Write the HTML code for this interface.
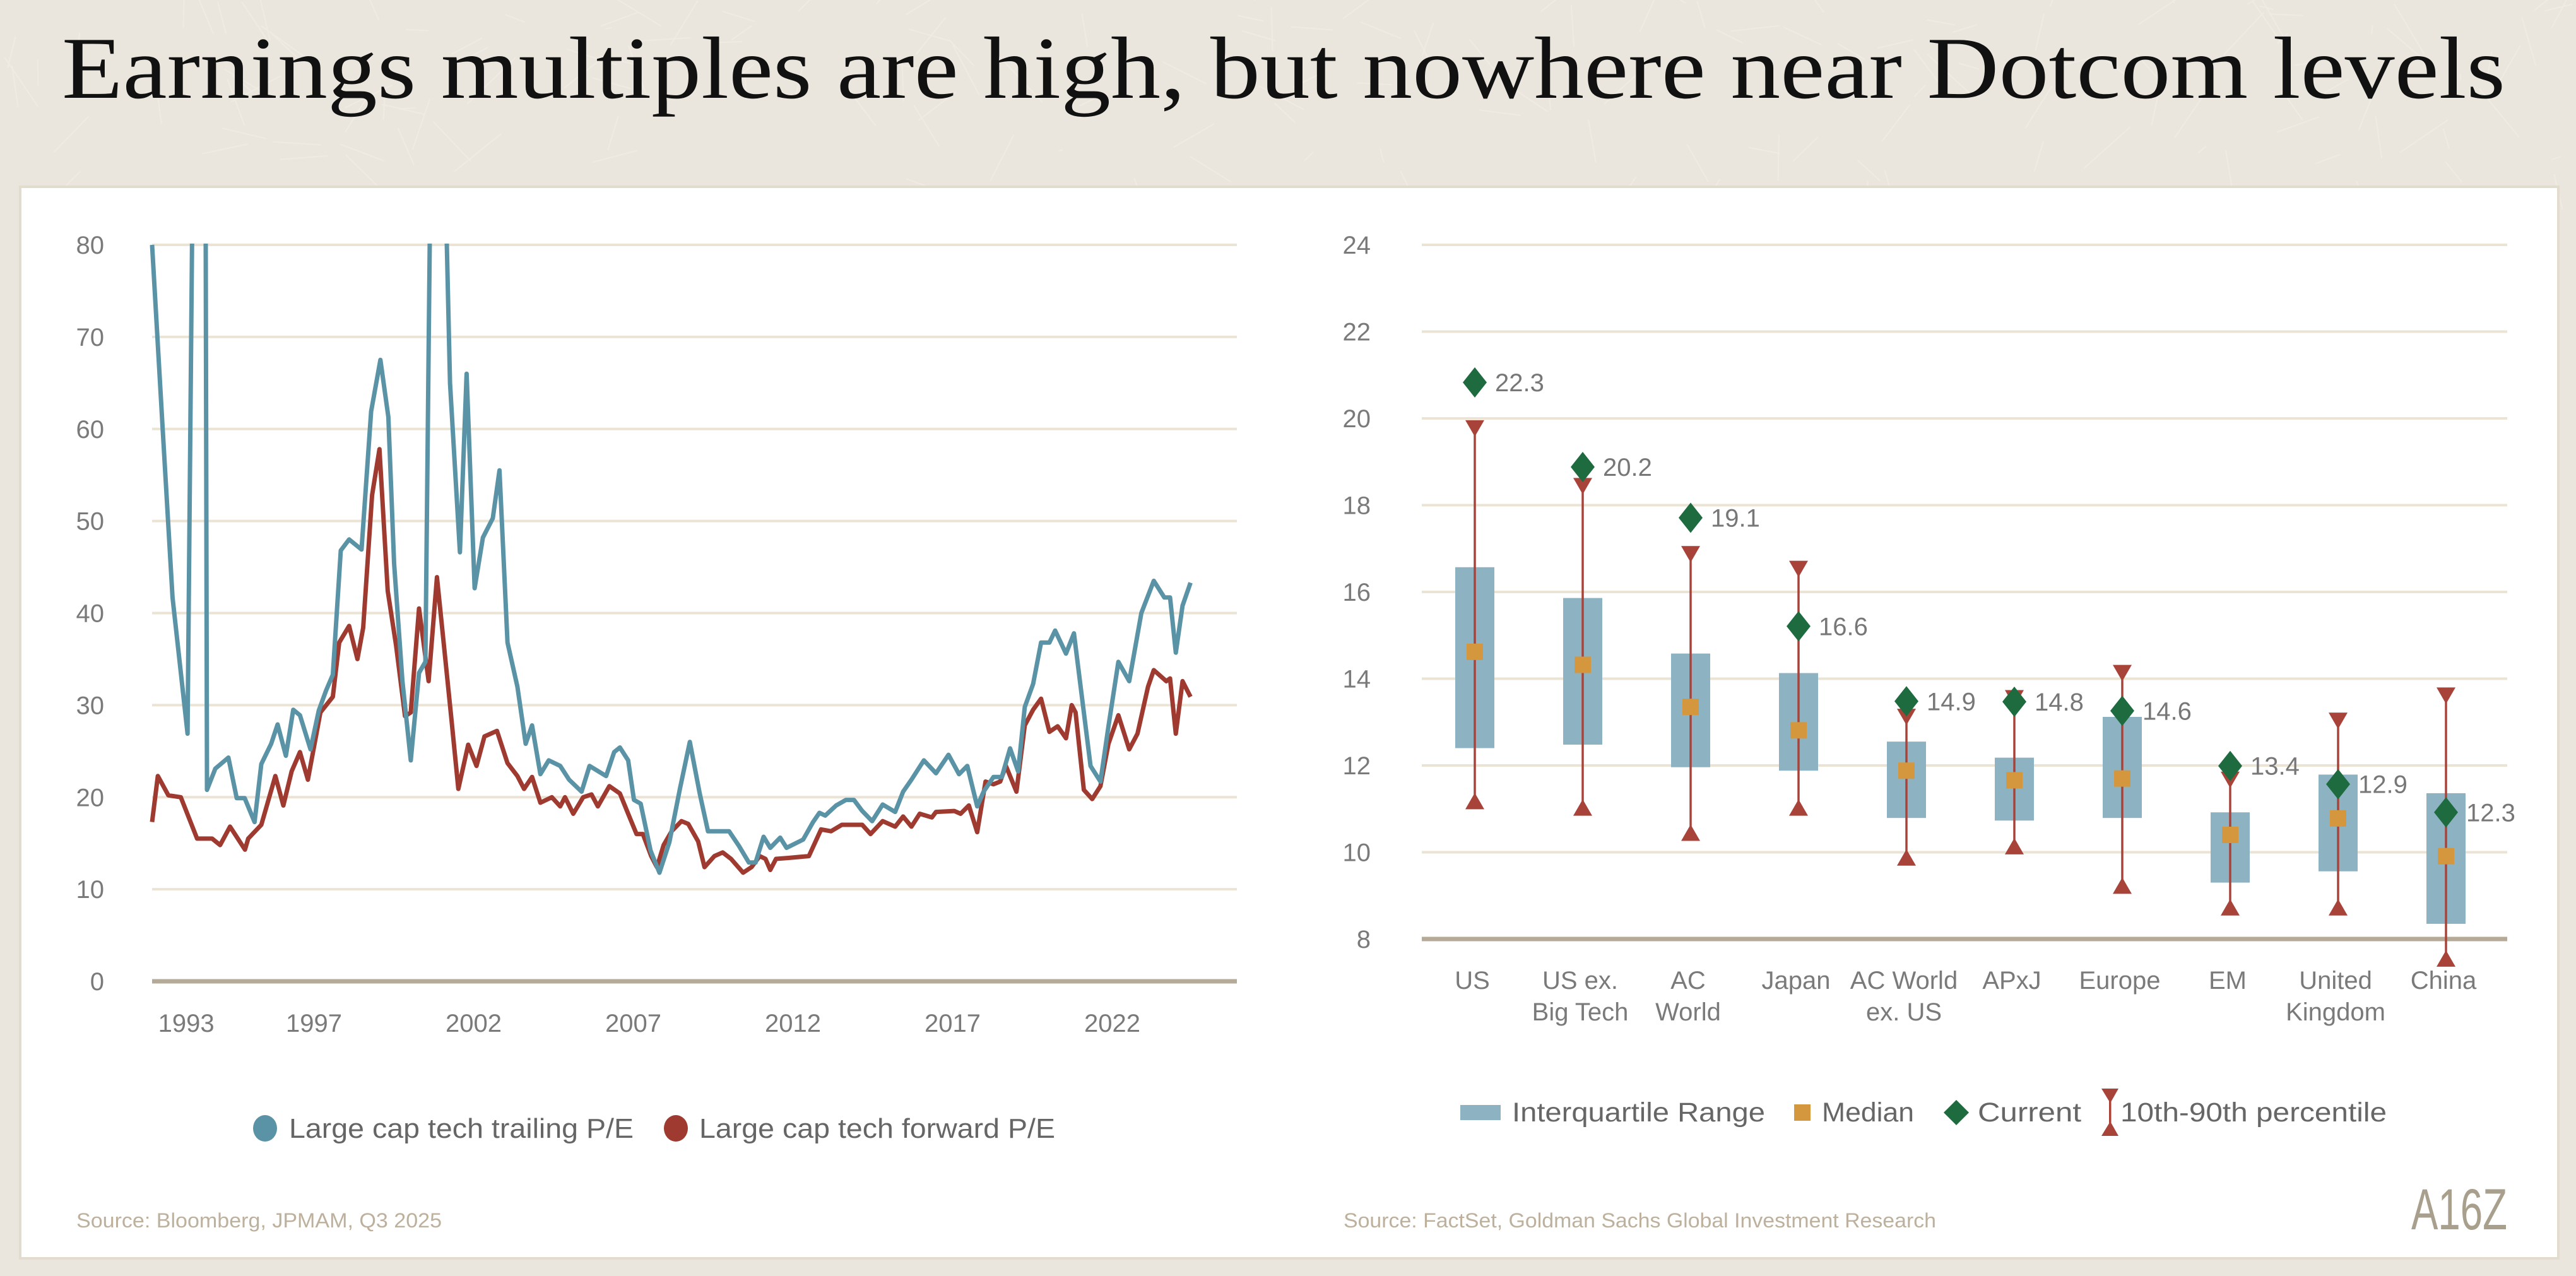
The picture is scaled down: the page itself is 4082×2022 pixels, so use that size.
<!DOCTYPE html>
<html><head><meta charset="utf-8"><style>
html,body{margin:0;padding:0;background:#ebe6dd;}
svg{display:block;}
text{font-family:"Liberation Sans Narrow","Liberation Sans",sans-serif;}
</style></head><body>
<svg id="root" width="4082" height="2022" viewBox="0 0 4082 2022" xmlns="http://www.w3.org/2000/svg">
<rect x="0" y="0" width="4082" height="2022" fill="#ebe6dd"/>
<g id="texture" stroke="#f2eee7" stroke-width="2" fill="none" opacity="0.6"></g>
<text x="98" y="155" font-size="140" textLength="3872" lengthAdjust="spacingAndGlyphs" fill="#111" style="font-family:'Liberation Serif',serif">Earnings multiples are high, but nowhere near Dotcom levels</text>
<rect x="32" y="296" width="4022" height="1698" fill="#fff" stroke="#e2dccf" stroke-width="4"/>
<g id="left"></g>
<g id="right"></g>
<g>
<ellipse cx="420" cy="1788" rx="19" ry="21" fill="#5a93a6"/>
<text x="458" y="1803" font-size="44" fill="#666" textLength="546" lengthAdjust="spacingAndGlyphs">Large cap tech trailing P/E</text>
<ellipse cx="1071" cy="1788" rx="19" ry="21" fill="#9e3a2f"/>
<text x="1108" y="1803" font-size="44" fill="#666" textLength="564" lengthAdjust="spacingAndGlyphs">Large cap tech forward P/E</text>
</g>
<text x="121" y="1945" font-size="32" fill="#bdb09c" textLength="579" lengthAdjust="spacingAndGlyphs">Source: Bloomberg, JPMAM, Q3 2025</text>
<g>
<rect x="2314" y="1751" width="64" height="24" fill="#8db3c3"/>
<text x="2396" y="1777" font-size="43" fill="#666" textLength="401" lengthAdjust="spacingAndGlyphs">Interquartile Range</text>
<rect x="2843" y="1750" width="26" height="26" fill="#d4973e"/>
<text x="2887" y="1777" font-size="43" fill="#666" textLength="146" lengthAdjust="spacingAndGlyphs">Median</text>
<polygon points="3100,1743 3120,1763 3100,1783 3080,1763" fill="#1e6b3f"/>
<text x="3134" y="1777" font-size="43" fill="#666" textLength="164" lengthAdjust="spacingAndGlyphs">Current</text>
<g fill="#a8433a">
<rect x="3342" y="1728" width="3.5" height="72"/>
<polygon points="3330,1725 3357,1725 3344,1748"/>
<polygon points="3330,1800 3357,1800 3344,1777"/>
</g>
<text x="3360" y="1777" font-size="43" fill="#666" textLength="422" lengthAdjust="spacingAndGlyphs">10th-90th percentile</text>
</g>
<text x="2129" y="1945" font-size="32" fill="#bdb09c" textLength="939" lengthAdjust="spacingAndGlyphs">Source: FactSet, Goldman Sachs Global Investment Research</text>
<text x="3821" y="1948" font-size="92" fill="#a89f8c" textLength="152" lengthAdjust="spacingAndGlyphs">A16Z</text>
</svg>
<script>
const trailingDates = [1992.23,1992.56,1992.87,1993.34,1993.52,1993.90,1993.95,1994.21,1994.62,1994.88,1995.13,1995.44,1995.65,1995.96,1996.16,1996.42,1996.65,1996.86,1997.19,1997.45,1997.68,1997.89,1998.14,1998.40,1998.79,1999.09,1999.38,1999.63,1999.81,2000.07,2000.33,2000.59,2000.79,2000.97,2001.36,2001.56,2001.87,2002.08,2002.33,2002.59,2002.90,2003.11,2003.36,2003.67,2003.93,2004.13,2004.39,2004.65,2005.01,2005.29,2005.68,2005.93,2006.45,2006.70,2006.88,2007.14,2007.32,2007.53,2007.84,2008.12,2008.43,2008.76,2009.07,2009.38,2009.64,2010.30,2010.61,2010.92,2011.13,2011.38,2011.59,2011.90,2012.10,2012.62,2012.93,2013.13,2013.31,2013.65,2013.96,2014.21,2014.47,2014.78,2015.11,2015.50,2015.75,2016.01,2016.40,2016.78,2017.17,2017.50,2017.76,2018.07,2018.27,2018.58,2018.84,2019.10,2019.35,2019.56,2019.82,2020.07,2020.33,2020.51,2020.85,2021.10,2021.41,2021.62,2021.93,2022.18,2022.49,2022.83,2023.21,2023.60,2023.93,2024.11,2024.29,2024.50,2024.75];
const trailingValues = [80,60.1,41.7,26.9,95,95,20.8,23.1,24.3,19.9,19.9,17.3,23.6,25.8,27.9,24.5,29.5,28.9,25.2,29.4,31.6,33.3,46.8,48.0,46.9,61.9,67.5,61.3,45.4,32.6,24.0,33.5,34.7,95,95,65.0,46.6,66.0,42.7,48.2,50.3,55.5,36.8,32.0,25.8,27.8,22.5,24.0,23.4,21.9,20.6,23.4,22.3,24.9,25.4,24.0,19.7,19.3,14.2,11.8,15.1,20.9,26.0,20.4,16.3,16.3,14.7,12.9,12.9,15.7,14.5,15.6,14.5,15.4,17.3,18.3,18.0,19.1,19.7,19.7,18.5,17.4,19.2,18.4,20.6,21.9,24.0,22.6,24.6,22.5,23.4,19.0,20.6,22.2,22.2,25.3,22.8,29.8,32.3,36.8,36.8,38.1,35.6,37.8,29.2,23.4,21.7,27.7,34.7,32.6,40.0,43.5,41.7,41.7,35.7,40.8,43.3];
const forwardDates = [1992.23,1992.41,1992.74,1993.13,1993.64,1994.11,1994.36,1994.67,1995.14,1995.24,1995.65,1996.09,1996.34,1996.60,1996.86,1997.11,1997.50,1997.89,1998.09,1998.40,1998.66,1998.84,1999.12,1999.35,1999.61,1999.87,2000.15,2000.33,2000.59,2000.89,2001.15,2001.36,2001.61,2001.82,2002.13,2002.39,2002.64,2003.03,2003.36,2003.67,2003.88,2004.13,2004.39,2004.75,2005.01,2005.16,2005.42,2005.73,2005.99,2006.19,2006.55,2006.88,2007.14,2007.40,2007.60,2007.86,2008.04,2008.25,2008.50,2008.81,2009.02,2009.33,2009.53,2009.84,2010.10,2010.36,2010.74,2011.00,2011.26,2011.44,2011.59,2011.77,2012.16,2012.80,2013.18,2013.49,2013.83,2014.47,2014.73,2015.11,2015.50,2015.75,2016.01,2016.27,2016.65,2016.78,2017.35,2017.55,2017.81,2018.07,2018.33,2018.58,2018.79,2018.97,2019.30,2019.56,2019.82,2020.07,2020.33,2020.59,2020.85,2021.03,2021.15,2021.41,2021.67,2021.93,2022.18,2022.49,2022.83,2023.09,2023.42,2023.60,2023.99,2024.11,2024.29,2024.50,2024.75];
const forwardValues = [17.3,22.3,20.2,20.0,15.5,15.5,14.8,16.8,14.3,15.5,17.0,22.3,19.1,22.8,24.9,21.9,29.2,30.9,36.8,38.6,35.0,38.4,52.8,57.8,42.4,36.5,28.8,29.2,40.5,32.6,43.9,36.8,28.3,20.9,25.7,23.4,26.6,27.2,23.7,22.3,20.9,22.2,19.4,20.0,19.0,20.0,18.2,20.0,20.3,19.0,21.2,20.4,18.2,16.0,16.0,13.6,12.4,14.8,16.3,17.4,17.1,15.2,12.4,13.6,14.0,13.3,11.8,12.4,13.6,13.3,12.1,13.3,13.4,13.6,16.5,16.3,17.0,17.0,16.0,17.4,16.8,17.9,16.8,18.2,17.8,18.4,18.5,18.2,19.1,16.2,21.7,21.4,21.7,23.4,20.6,27.8,29.5,30.7,27.1,27.7,26.4,30.0,29.2,20.8,19.8,21.2,25.8,28.9,25.2,26.9,32.0,33.8,32.6,32.9,26.9,32.6,30.9];
const leftYTicks = [0,10,20,30,40,50,60,70,80];
const leftXTickYears = [1993,1997,2002,2007,2012,2017,2022];

const regions = [["US"],["US ex.","Big Tech"],["AC","World"],["Japan"],["AC World","ex. US"],["APxJ"],["Europe"],["EM"],["United","Kingdom"],["China"]];
const iqrHigh = [16.57,15.86,14.58,14.13,12.55,12.18,13.12,10.92,11.79,11.36];
const iqrLow = [12.40,12.48,11.96,11.88,10.79,10.73,10.79,9.30,9.56,8.35];
const medians = [14.62,14.32,13.35,12.81,11.88,11.66,11.70,10.40,10.78,9.91];
const p90 = [19.9,18.57,17.0,16.66,13.25,13.68,14.26,11.8,13.16,13.74];
const p10 = [11.05,10.9,10.32,10.9,9.75,10.01,9.1,8.6,8.6,7.42];
const currentPos = [20.83,18.88,17.71,15.21,13.48,13.47,13.26,11.99,11.57,10.92];
const currentLabels = ["22.3","20.2","19.1","16.6","14.9","14.8","14.6","13.4","12.9","12.3"];
const rightYTicks = [8,10,12,14,16,18,20,22,24];

const NS = "http://www.w3.org/2000/svg";
function mk(tag, attrs, parent){ const e=document.createElementNS(NS,tag); for(const k in attrs) e.setAttribute(k,attrs[k]); parent.appendChild(e); return e; }

(function(){
  const t=document.getElementById('texture');
  let s=7;
  function r(){ s=(s*9301+49297)%233280; return s/233280; }
  for(let i=0;i<220;i++){
    const x=r()*4082, y=r()<0.75? r()*290 : 290+r()*1732;
    mk('line',{x1:x,y1:y,x2:x+(r()-0.5)*160,y2:y+(r()-0.5)*160},t);
  }
})();

const L = document.getElementById('left');
const lx0=241, lx1=1960, ly0=1555, ly80=388;
function lxs(yr){ return lx0 + (yr-1992.23)*50.6; }
function lys(v){ return ly0 - v*(ly0-ly80)/80; }
leftYTicks.forEach(v=>{
  const g = mk('line',{x1:lx0,x2:lx1,y1:lys(v),y2:lys(v),stroke:v===0?'#b5a997':'#ebe3d3','stroke-width':v===0?7:4},L);
  
  
  const t = mk('text',{x:165,y:lys(v)+14,'text-anchor':'end','font-size':40,fill:'#7a7a7a'},L);
  t.textContent=v;
  
  
});
leftXTickYears.forEach(yr=>{
  const t = mk('text',{x:lxs(yr+0.3),y:1635,'text-anchor':'middle','font-size':40,fill:'#7a7a7a'},L);
  t.textContent=yr;
  
  
});
const defs = mk('defs',{},L);
const cp = mk('clipPath',{id:'lclip'},defs);
mk('rect',{x:200,y:ly80-2,width:1800,height:1300},cp);
function linePath(ds,vs){ return ds.map((d,i)=>(i?'L':'M')+lxs(d).toFixed(1)+','+lys(vs[i]).toFixed(1)).join(''); }
const pf = mk('path',{d:linePath(forwardDates,forwardValues),fill:'none',stroke:'#9e3a2f','stroke-width':7,'stroke-linejoin':'round','clip-path':'url(#lclip)'},L);


const pt = mk('path',{d:linePath(trailingDates,trailingValues),fill:'none',stroke:'#5a93a6','stroke-width':7,'stroke-linejoin':'round','clip-path':'url(#lclip)'},L);



const R = document.getElementById('right');
const rx0=2253, rx1=3973;
function rys(v){ return 1488 - (v-8)*68.75; }
function rxs(i){ return 2337 + i*171; }
rightYTicks.forEach(v=>{
  const g = mk('line',{x1:rx0,x2:rx1,y1:rys(v),y2:rys(v),stroke:v===8?'#b5a997':'#ebe3d3','stroke-width':v===8?7:4},R);
  
  
  const t = mk('text',{x:2172,y:rys(v)+14,'text-anchor':'end','font-size':40,fill:'#7a7a7a'},R);
  t.textContent=v;
  
  
});
regions.forEach((lines,i)=>{
  const cx=rxs(i);
  const box = mk('rect',{x:cx-31,y:rys(iqrHigh[i]),width:62,height:rys(iqrLow[i])-rys(iqrHigh[i]),fill:'#8db3c3'},R);
  
  
  const wg = mk('g',{fill:'#a8433a'},R);
  
  
  mk('rect',{x:cx-1.75,y:rys(p90[i]),width:3.5,height:rys(p10[i])-rys(p90[i])},wg);
  const yt=rys(p90[i]), yb=rys(p10[i]);
  mk('polygon',{points:`${cx-15},${yt-4} ${cx+15},${yt-4} ${cx},${yt+22}`},wg);
  mk('polygon',{points:`${cx-15},${yb+4} ${cx+15},${yb+4} ${cx},${yb-22}`},wg);
  const med = mk('rect',{x:cx-13,y:rys(medians[i])-13,width:26,height:26,fill:'#d4973e'},R);
  
  
  const cy=rys(currentPos[i]);
  const dm = mk('polygon',{points:`${cx},${cy-24} ${cx+19},${cy} ${cx},${cy+24} ${cx-19},${cy}`,fill:'#1e6b3f'},R);
  
  
  const cl = mk('text',{x:cx+32,y:cy+14,'font-size':40,fill:'#777'},R);
  cl.textContent=currentLabels[i];
  
  
  lines.forEach((ln,j)=>{
    const t = mk('text',{x:cx-4,y:1567+j*50,'text-anchor':'middle','font-size':40,fill:'#7a7a7a'},R);
    t.textContent=ln;
    
    
  });
});
</script>
</body></html>
